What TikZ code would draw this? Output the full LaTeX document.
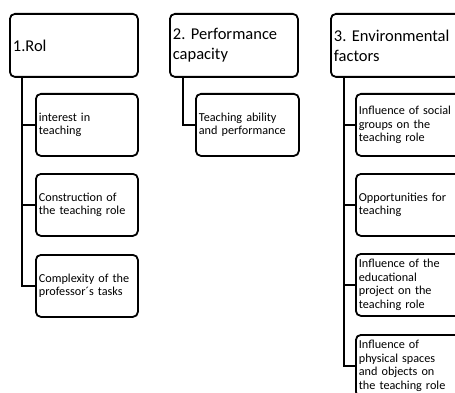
\documentclass[tikz,border=0pt]{standalone}
\usepackage{fontspec}
\setmainfont{Carlito}
\usetikzlibrary{calc}
\frenchspacing
\tikzset{
  box/.style={draw=black, line width=1.8pt, rounded corners=5pt, rectangle, anchor=north west,
    inner xsep=3pt, inner ysep=2pt, align=left},
  mainbox/.style={box, minimum height=63pt, text width=122pt, font=\fontsize{16.5}{20}\selectfont},
  subbox/.style={box, minimum height=62pt, font=\fontsize{12.2}{13.6}\selectfont},
  conn/.style={draw=black, line width=1.8pt}
}
\begin{document}
\begin{tikzpicture}[x=1pt,y=-1pt]
\clip (0,0) rectangle (455,393);
\fill[white] (0,0) rectangle (455,393);
% main boxes
\node[mainbox] (m1) at (9,13) {1.Rol};
\node[mainbox] (m2) at (169,13) {2. Performance\\capacity};
\node[mainbox, text width=126pt] (m3) at (330,13) {3. Environmental\\factors};
% column 1
\node[subbox, text width=96pt] (a1) at (35,93) {interest in\\teaching};
\node[subbox, text width=96pt] (a2) at (35,173) {Construction of\\the teaching role};
\node[subbox, text width=96pt] (a3) at (35,254) {Complexity of the\\professor´s tasks};
% column 2
\node[subbox, text width=97pt] (b1) at (195,93) {Teaching ability\\and performance};
% column 3
\node[subbox, text width=102pt] (c1) at (355,93) {Influence of social\\groups on the\\teaching role};
\node[subbox, text width=102pt] (c2) at (355,173) {Opportunities for\\teaching};
\node[subbox, text width=102pt] (c3) at (355,253) {Influence of the\\educational\\project on the\\teaching role};
\node[subbox, text width=102pt] (c4) at (355,334) {Influence of\\physical spaces\\and objects on\\the teaching role};
% connectors
\coordinate (s1) at ($(m1.south west)+(13,0)$);
\coordinate (s2) at ($(m2.south west)+(14,0)$);
\coordinate (s3) at ($(m3.south west)+(14,0)$);
\draw[conn] (s1) |- (a3.west);
\draw[conn] (s1) |- (a2.west);
\draw[conn] (s1) |- (a1.west);
\draw[conn] (s2) |- (b1.west);
\draw[conn] (s3) |- (c4.west);
\draw[conn] (s3) |- (c3.west);
\draw[conn] (s3) |- (c2.west);
\draw[conn] (s3) |- (c1.west);
\end{tikzpicture}
\end{document}
